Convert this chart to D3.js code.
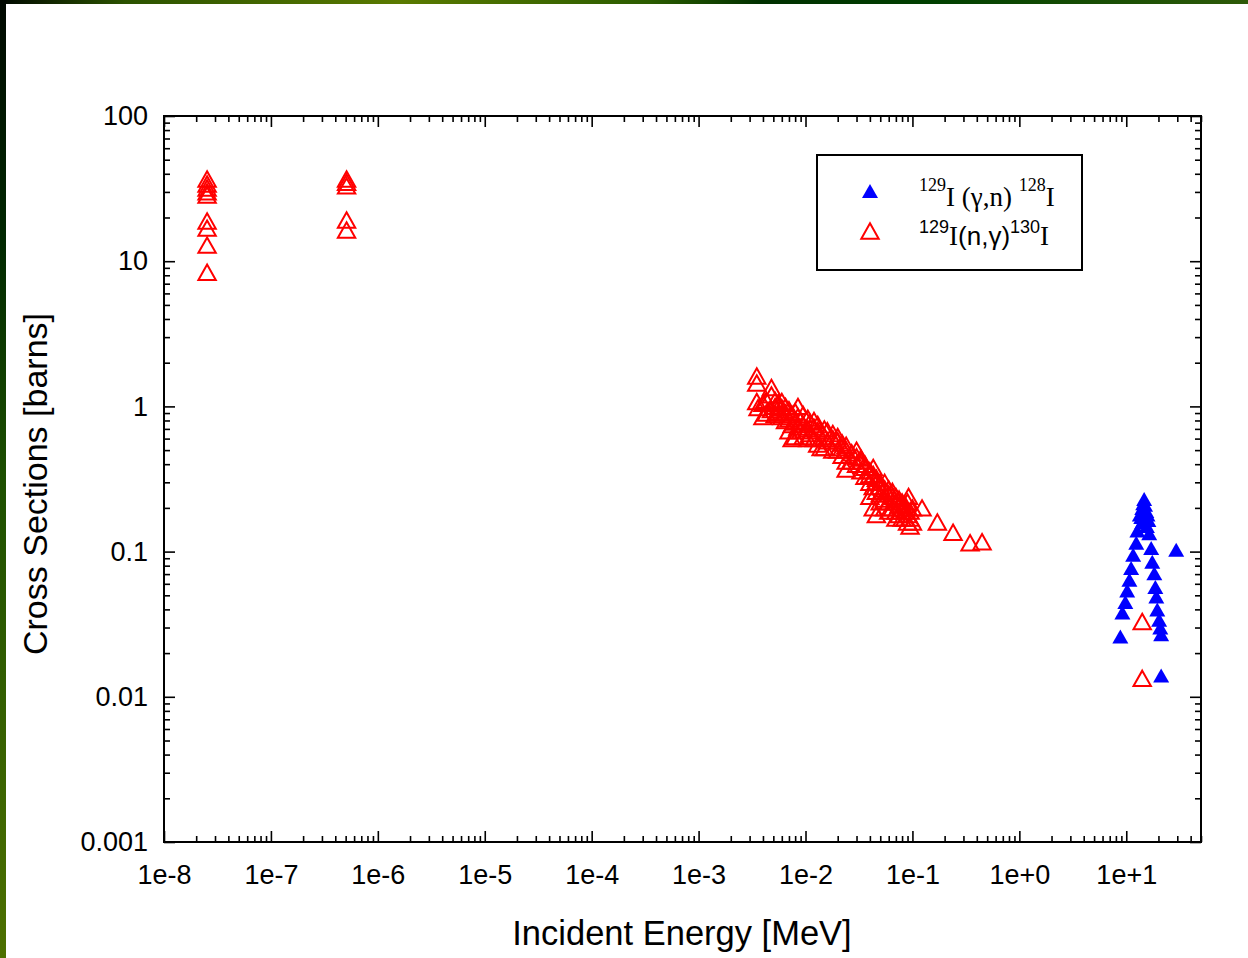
<!DOCTYPE html>
<html>
<head>
<meta charset="utf-8">
<title>129I cross sections</title>
<script src="https://cdnjs.cloudflare.com/ajax/libs/d3/7.8.5/d3.min.js"></script>
<style>
  body { margin: 0; background: #fff; }
  svg { display: block; }
</style>
</head>
<body>
<svg id="chart" width="1248" height="958"></svg>
<script>
// tick values / labels
var xDecades = [1e-8, 1e-7, 1e-6, 1e-5, 1e-4, 1e-3, 1e-2, 1e-1, 1e0, 1e1];
var xTickLabels = ["1e-8", "1e-7", "1e-6", "1e-5", "1e-4", "1e-3", "1e-2", "1e-1", "1e+0", "1e+1"];
var yDecades = [0.001, 0.01, 0.1, 1, 10, 100];
var yTickLabels = ["0.001", "0.01", "0.1", "1", "10", "100"];

// 129I(n,g)130I  [energy MeV, cross section barns]
var ngThermal = [[2.53e-8, 36.8], [2.53e-8, 34], [2.53e-8, 31.9], [2.53e-8, 30], [2.53e-8, 28.6],
  [2.53e-8, 18.9], [2.53e-8, 16.9], [2.53e-8, 12.9], [2.53e-8, 8.4]];
var ngEpi = [[5.1e-7, 36.8], [5.1e-7, 35], [5.1e-7, 33], [5.1e-7, 19.2], [5.1e-7, 16.4]];
var ngKeV = [
  [3.5e-3, 1.62], [3.5e-3, 1.45], [3.5e-3, 1.08], [3.6e-3, 0.98],
  [4.0e-3, 0.85], [4.0e-3, 1.05], [4.3e-3, 0.9], [4.3e-3, 1.1],
  [4.8e-3, 1.35], [4.8e-3, 1.2], [4.8e-3, 0.95], [5.2e-3, 1.1], [5.2e-3, 0.88], [5.2e-3, 1.0],
  [5.6e-3, 1.05], [5.6e-3, 0.92], [6.0e-3, 0.98], [6.0e-3, 0.85], [6.0e-3, 1.08],
  [6.5e-3, 0.9], [6.5e-3, 0.8], [6.5e-3, 1.0], [7.0e-3, 0.68], [7.0e-3, 0.95], [7.0e-3, 0.82],
  [7.5e-3, 0.6], [7.5e-3, 0.88], [7.5e-3, 0.75], [8.0e-3, 0.62], [8.0e-3, 0.78], [8.0e-3, 0.92],
  [8.5e-3, 1.0], [8.5e-3, 0.72], [8.5e-3, 0.85], [9.0e-3, 0.8], [9.0e-3, 0.68],
  [9.5e-3, 0.75], [9.5e-3, 0.62], [9.5e-3, 0.88], [0.0105, 0.83], [0.0105, 0.7], [0.0105, 0.6],
  [0.011, 0.78], [0.011, 0.65], [0.012, 0.72], [0.012, 0.6], [0.012, 0.8],
  [0.013, 0.68], [0.013, 0.55], [0.013, 0.75], [0.014, 0.52], [0.015, 0.62], [0.015, 0.52], [0.015, 0.7],
  [0.016, 0.68], [0.016, 0.58], [0.018, 0.6], [0.018, 0.5], [0.018, 0.65],
  [0.020, 0.58], [0.020, 0.5], [0.020, 0.62], [0.022, 0.52], [0.022, 0.46], [0.022, 0.56],
  [0.024, 0.54], [0.024, 0.42], [0.024, 0.37], [0.024, 0.5], [0.027, 0.48], [0.027, 0.42],
  [0.030, 0.45], [0.030, 0.4], [0.030, 0.5], [0.033, 0.42], [0.033, 0.36], [0.033, 0.44],
  [0.036, 0.38], [0.036, 0.33], [0.036, 0.4], [0.040, 0.36], [0.040, 0.3], [0.040, 0.24], [0.040, 0.34],
  [0.043, 0.34], [0.043, 0.28], [0.043, 0.38], [0.043, 0.2], [0.046, 0.3], [0.046, 0.26], [0.046, 0.32], [0.046, 0.18],
  [0.050, 0.3], [0.050, 0.25], [0.050, 0.28], [0.050, 0.22], [0.055, 0.27], [0.055, 0.23], [0.055, 0.3], [0.055, 0.2],
  [0.060, 0.25], [0.060, 0.22], [0.060, 0.27], [0.060, 0.19], [0.065, 0.24], [0.065, 0.2], [0.065, 0.26],
  [0.070, 0.22], [0.070, 0.19], [0.070, 0.24], [0.070, 0.17], [0.075, 0.21], [0.075, 0.18], [0.075, 0.23],
  [0.080, 0.2], [0.080, 0.17], [0.080, 0.22], [0.085, 0.19], [0.085, 0.17], [0.085, 0.21],
  [0.090, 0.18], [0.090, 0.16], [0.090, 0.22], [0.092, 0.24], [0.095, 0.17], [0.095, 0.15], [0.095, 0.19],
  [0.10, 0.16], [0.10, 0.2]];
var ngFast = [[0.123, 0.2], [0.171, 0.16], [0.24, 0.136], [0.346, 0.115], [0.448, 0.117],
  [14.1, 0.033], [14.1, 0.0134]];

// 129I(g,n)128I
var gnPoints = [[8.8, 0.026], [9.2, 0.038], [9.8, 0.045], [10.2, 0.054], [10.7, 0.064], [11.1, 0.077],
  [11.6, 0.095], [12.4, 0.115], [12.7, 0.14], [13.4, 0.18], [13.8, 0.173], [14.1, 0.2], [14.1, 0.16],
  [14.4, 0.215], [14.7, 0.23], [15.0, 0.21], [15.4, 0.19], [15.6, 0.15], [15.8, 0.18], [16.1, 0.165],
  [16.4, 0.134], [17.1, 0.106], [17.5, 0.085], [18.3, 0.071], [18.7, 0.057], [19.1, 0.049],
  [19.5, 0.04], [20.3, 0.034], [20.8, 0.03], [21.2, 0.027], [29.3, 0.103], [21.2, 0.014]];

var svg = d3.select("#chart");
var W = 1248, H = 958;
var mLeft = 164, mRight = 1201, mTop = 116, mBottom = 842;

// frame decoration
var defs = svg.append("defs");
var gTop = defs.append("linearGradient").attr("id", "gtop");
[["0%", "#000800"], ["10%", "#2b5200"], ["32%", "#5a7a00"], ["52%", "#2b5c00"], ["61%", "#003000"],
 ["75%", "#004000"], ["100%", "#2e5a08"]].forEach(function(s) {
  gTop.append("stop").attr("offset", s[0]).attr("stop-color", s[1]);
});
var gLeft = defs.append("linearGradient").attr("id", "gleft").attr("x1", 0).attr("y1", 0).attr("x2", 0).attr("y2", 1);
[["0%", "#000800"], ["25%", "#002800"], ["50%", "#1d4f00"], ["100%", "#4d7000"]].forEach(function(s) {
  gLeft.append("stop").attr("offset", s[0]).attr("stop-color", s[1]);
});
svg.append("rect").attr("width", W).attr("height", H).attr("fill", "#fff");
svg.append("rect").attr("width", W).attr("height", 4).attr("fill", "url(#gtop)");
svg.append("rect").attr("width", 6).attr("height", H).attr("fill", "url(#gleft)");

var x = d3.scaleLog().domain([1e-8, 50]).range([mLeft, mRight]);
var y = d3.scaleLog().domain([0.001, 100]).range([mBottom, mTop]);

var xMinor = [], yMinor = [];
xDecades.forEach(function(d) { for (var k = 2; k <= 9; k++) if (d * k <= 50) xMinor.push(d * k); });
yDecades.forEach(function(d) { for (var k = 2; k <= 9; k++) if (d * k < 100) yMinor.push(d * k); });

var font = "'Liberation Sans', Arial, sans-serif";

function styleAxis(g) {
  g.select(".domain").remove();
  g.selectAll("line").attr("stroke", "#000").attr("stroke-width", 1.6);
  g.selectAll("text").attr("font-family", font).attr("font-size", 27).attr("fill", "#000");
}

// bottom
svg.append("g").attr("transform", "translate(0," + mBottom + ")")
  .call(d3.axisBottom(x).tickValues(xMinor).tickSize(-6).tickFormat(""))
  .call(styleAxis);
svg.append("g").attr("transform", "translate(0," + mBottom + ")")
  .call(d3.axisBottom(x).tickValues(xDecades).tickSize(-11).tickPadding(23)
    .tickFormat(function(d, i) { return xTickLabels[i]; }))
  .call(styleAxis);
// top
svg.append("g").attr("transform", "translate(0," + mTop + ")")
  .call(d3.axisTop(x).tickValues(xMinor).tickSize(-6).tickFormat(""))
  .call(styleAxis);
svg.append("g").attr("transform", "translate(0," + mTop + ")")
  .call(d3.axisTop(x).tickValues(xDecades).tickSize(-11).tickFormat(""))
  .call(styleAxis);
// left
svg.append("g").attr("transform", "translate(" + mLeft + ",0)")
  .call(d3.axisLeft(y).tickValues(yMinor).tickSize(-6).tickFormat(""))
  .call(styleAxis);
svg.append("g").attr("transform", "translate(" + mLeft + ",0)")
  .call(d3.axisLeft(y).tickValues(yDecades).tickSize(-11).tickPadding(16)
    .tickFormat(function(d, i) { return yTickLabels[i]; }))
  .call(styleAxis);
// right
svg.append("g").attr("transform", "translate(" + mRight + ",0)")
  .call(d3.axisRight(y).tickValues(yMinor).tickSize(-6).tickFormat(""))
  .call(styleAxis);
svg.append("g").attr("transform", "translate(" + mRight + ",0)")
  .call(d3.axisRight(y).tickValues(yDecades).tickSize(-11).tickFormat(""))
  .call(styleAxis);

svg.append("rect").attr("x", mLeft).attr("y", mTop)
  .attr("width", mRight - mLeft).attr("height", mBottom - mTop)
  .attr("fill", "none").attr("stroke", "#000").attr("stroke-width", 2);

// triangle centred on its bounding box
function tri(hw, hh) {
  return "M0," + (-hh) + "L" + hw + "," + hh + "L" + (-hw) + "," + hh + "Z";
}

var ngAll = ngThermal.concat(ngEpi, ngKeV, ngFast);

svg.append("g").selectAll("path").data(gnPoints).enter().append("path")
  .attr("d", tri(8, 7))
  .attr("transform", function(d) { return "translate(" + x(d[0]) + "," + y(d[1]) + ")"; })
  .attr("fill", "#0000ff");

svg.append("g").selectAll("path").data(ngAll).enter().append("path")
  .attr("d", tri(8.7, 7.7))
  .attr("transform", function(d) { return "translate(" + x(d[0]) + "," + y(d[1]) + ")"; })
  .attr("fill", "none").attr("stroke", "#ff0000").attr("stroke-width", 2);

// axis titles
svg.append("text").attr("x", 682).attr("y", 945).attr("text-anchor", "middle")
  .attr("font-family", font).attr("font-size", 34.5).text("Incident Energy [MeV]");
svg.append("text").attr("transform", "translate(47,484) rotate(-90)").attr("text-anchor", "middle")
  .attr("font-family", font).attr("font-size", 34).text("Cross Sections [barns]");

// legend
var lg = svg.append("g");
lg.append("rect").attr("x", 817).attr("y", 155).attr("width", 265).attr("height", 115)
  .attr("fill", "#fff").attr("stroke", "#000").attr("stroke-width", 2);
lg.append("path").attr("d", tri(8, 7)).attr("transform", "translate(870,191)").attr("fill", "#0000ff");
lg.append("path").attr("d", tri(8.7, 7.7)).attr("transform", "translate(870,231)")
  .attr("fill", "none").attr("stroke", "#ff0000").attr("stroke-width", 2);

var serif = "'Liberation Serif', 'Times New Roman', serif";
var t1 = lg.append("text").attr("x", 919).attr("y", 206).attr("font-family", serif).attr("font-size", 27);
t1.append("tspan").attr("font-size", 18).attr("dy", -15).text("129");
t1.append("tspan").attr("dy", 15).text("I (γ,n) ");
t1.append("tspan").attr("font-size", 18).attr("dy", -15).text("128");
t1.append("tspan").attr("dy", 15).text("I");

var t2 = lg.append("text").attr("x", 919).attr("y", 245).attr("font-family", serif).attr("font-size", 27);
t2.append("tspan").attr("font-family", font).attr("font-size", 18).attr("dy", -12).text("129");
t2.append("tspan").attr("dy", 12).text("I");
t2.append("tspan").attr("font-family", font).attr("font-size", 26).text("(n,γ)");
t2.append("tspan").attr("font-family", font).attr("font-size", 18).attr("dy", -12).text("130");
t2.append("tspan").attr("dy", 12).text("I");
</script>
</body>
</html>
